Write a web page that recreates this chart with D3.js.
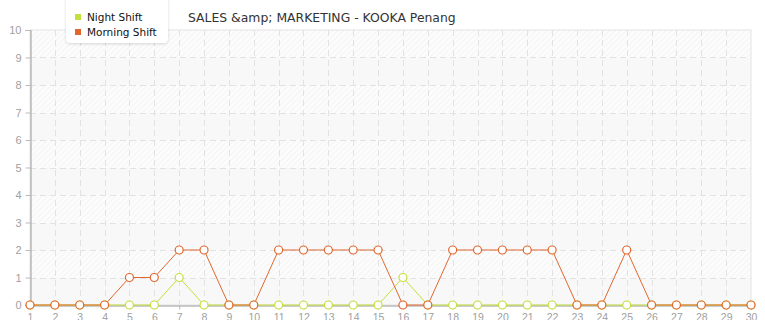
<!DOCTYPE html>
<html>
<head>
<meta charset="utf-8">
<script src="https://cdnjs.cloudflare.com/ajax/libs/d3/7.8.5/d3.min.js"></script>
<style>
body { margin: 0; background: #fff; }
svg { display: block; font-family: "DejaVu Sans", Verdana, sans-serif; }
.tick text { fill: #999; font-size: 11px; }
</style>
</head>
<body>
<svg id="chart" width="765" height="320"></svg>
<script>
var days = d3.range(1, 31);
var nightShift = [0,0,0,0,0,0,1,0,0,0, 0,0,0,0,0,1,0,0,0,0, 0,0,0,0,0,0,0,0,0,0];
var morningShift = [0,0,0,0,1,1,2,2,0,0, 2,2,2,2,2,0,0,2,2,2, 2,2,0,0,2,0,0,0,0,0];
var yTicks = d3.range(0, 11);
var title = 'SALES &amp; MARKETING - KOOKA Penang';

var series = [
    { name: 'Night Shift', values: nightShift, color: '#c4e03c' },
    { name: 'Morning Shift', values: morningShift, color: '#e2672e' }
];

var svg = d3.select('#chart');
var margin = { left: 30, right: 14, top: 30, bottom: 15 };
var width = 765, height = 320;

var x = d3.scaleLinear().domain([1, 30]).range([margin.left, width - margin.right]);
var y = d3.scaleLinear().domain([0, 10]).range([height - margin.bottom, margin.top]);

// hatch pattern
var defs = svg.append('defs');
var pat = defs.append('pattern')
    .attr('id', 'hatch')
    .attr('width', 4).attr('height', 4)
    .attr('patternUnits', 'userSpaceOnUse')
    .attr('patternTransform', 'rotate(45)');
pat.append('rect').attr('width', 4).attr('height', 4).attr('fill', '#fcfcfc');
pat.append('line').attr('x1', 0).attr('y1', 0).attr('x2', 0).attr('y2', 4)
    .attr('stroke', '#ececec').attr('stroke-width', 1);

var shadow = defs.append('filter').attr('id', 'shadow')
    .attr('x', '-20%').attr('y', '-20%').attr('width', '140%').attr('height', '150%');
shadow.append('feDropShadow').attr('dx', 0).attr('dy', 1).attr('stdDeviation', 1.5)
    .attr('flood-color', '#000').attr('flood-opacity', 0.15);

// bands
var bands = svg.append('g');
bands.selectAll('rect')
    .data(yTicks.slice(0, -1))
    .enter().append('rect')
    .attr('x', x(1))
    .attr('y', function(d) { return y(d + 1); })
    .attr('width', x(30) - x(1))
    .attr('height', function(d) { return y(d) - y(d + 1); })
    .attr('fill', function(d) { return d % 2 ? 'url(#hatch)' : '#f8f8f8'; });

// plot border
svg.append('rect')
    .attr('x', x(1)).attr('y', y(10))
    .attr('width', x(30) - x(1)).attr('height', y(0) - y(10))
    .attr('fill', 'none').attr('stroke', '#e4e4e4');

// grid
var grid = svg.append('g').attr('stroke', '#e2e2e2').attr('stroke-dasharray', '6,4');
grid.selectAll('.vg')
    .data(days.slice(1, -1))
    .enter().append('line')
    .attr('x1', function(d) { return Math.round(x(d)) + 0.5; })
    .attr('x2', function(d) { return Math.round(x(d)) + 0.5; })
    .attr('y1', y(10)).attr('y2', y(0));
grid.selectAll('.hg')
    .data(yTicks.slice(1, -1))
    .enter().append('line')
    .attr('x1', x(1)).attr('x2', x(30))
    .attr('y1', function(d) { return Math.round(y(d)) + 0.5; })
    .attr('y2', function(d) { return Math.round(y(d)) + 0.5; });

// axes
var yAxis = svg.append('g')
    .attr('transform', 'translate(' + (Math.round(x(1)) + 0.5) + ',0)')
    .call(d3.axisLeft(y).tickValues(yTicks).tickSize(5).tickPadding(4).tickFormat(d3.format('d')));
yAxis.selectAll('line').attr('stroke', '#bbb');
yAxis.select('.domain').attr('stroke', '#999');
yAxis.selectAll('text').style('font-size', '11px').style('fill', '#a0a0a0');

var xAxis = svg.append('g')
    .attr('transform', 'translate(0,' + (Math.round(y(0)) + 0.5) + ')')
    .call(d3.axisBottom(x).tickValues(days).tickSize(4).tickPadding(4).tickFormat(d3.format('d')));
xAxis.selectAll('line').attr('stroke', '#bbb');
xAxis.select('.domain').attr('stroke', '#999');
xAxis.selectAll('text').style('font-size', '10.5px').style('fill', '#a0a0a0');

// lines
var line = d3.line()
    .x(function(d, i) { return x(days[i]); })
    .y(function(d) { return y(d); });

var plot = svg.append('g');
series.forEach(function(s) {
    var g = plot.append('g');
    g.append('path')
        .attr('d', line(s.values))
        .attr('fill', 'none')
        .attr('stroke', s.color)
        .attr('stroke-width', 1);
    g.selectAll('circle')
        .data(s.values)
        .enter().append('circle')
        .attr('cx', function(d, i) { return x(days[i]); })
        .attr('cy', function(d) { return y(d); })
        .attr('r', 4)
        .attr('fill', '#fff')
        .attr('stroke', s.color)
        .attr('stroke-width', 1.2);
});

// title
svg.append('text')
    .attr('x', 188).attr('y', 22)
    .attr('fill', '#333')
    .style('font-size', '12.4px')
    .text(title);

// legend
var legend = svg.append('g');
legend.append('path')
    .attr('d', 'M66,-5 L168,-5 L168,38 Q168,43 163,43 L71,43 Q66,43 66,38 Z')
    .attr('fill', '#fff')
    .attr('filter', 'url(#shadow)');
var items = legend.selectAll('.item')
    .data(series)
    .enter().append('g')
    .attr('transform', function(d, i) { return 'translate(75,' + (18 + i * 15) + ')'; });
items.append('rect')
    .attr('x', 0).attr('y', -4).attr('width', 6).attr('height', 6)
    .attr('fill', function(d) { return d.color; });
items.append('text')
    .attr('x', 12).attr('y', 3)
    .attr('fill', '#111')
    .style('font-size', '10.5px')
    .text(function(d) { return d.name; });
</script>
</body>
</html>
